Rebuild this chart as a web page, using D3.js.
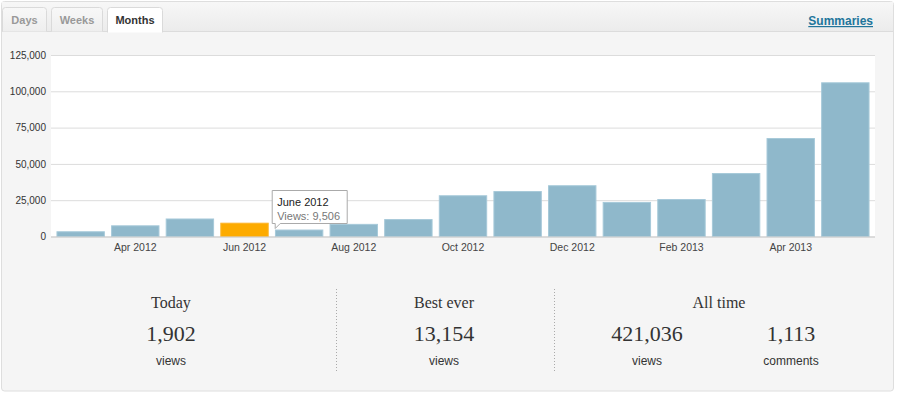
<!DOCTYPE html>
<html>
<head>
<meta charset="utf-8">
<script src="https://cdn.jsdelivr.net/npm/d3@7"></script>
<style>
  html, body { margin: 0; padding: 0; background: #fff; }
  svg { display: block; font-family: "Liberation Sans", Arial, sans-serif; }
</style>
</head>
<body>
<div id="chart"></div>
<script>
// monthly views
const months = ["Mar 2012", "Apr 2012", "May 2012", "Jun 2012", "Jul 2012", "Aug 2012", "Sep 2012",
    "Oct 2012", "Nov 2012", "Dec 2012", "Jan 2013", "Feb 2013", "Mar 2013", "Apr 2013", "May 2013"];
const views = [3600, 7700, 12400, 9506, 4800, 8700, 12000, 28400, 31300, 35300, 23800, 25800, 43700, 67800, 106200];
const xTickLabels = ["Apr 2012", "Jun 2012", "Aug 2012", "Oct 2012", "Dec 2012", "Feb 2013", "Apr 2013"];
const yTicks = [0, 25000, 50000, 75000, 100000, 125000];
const highlighted = "Jun 2012";
const tooltipLines = ["June 2012", "Views: 9,506"];

const tabs = ["Days", "Weeks", "Months"];
const activeTab = "Months";

// summary block
const summaryTitles = ["Today", "Best ever", "All time"];
const summaryNumbers = ["1,902", "13,154", "421,036", "1,113"];
const summaryUnits = ["views", "views", "views", "comments"];

const W = 899, H = 395;
const plot = {left: 51, right: 875, top: 55, bottom: 236.5};

let svg = d3.select("#chart").append("svg")
    .attr("width", W)
    .attr("height", H);

let defs = svg.append("defs");
let hg = defs.append("linearGradient").attr("id", "hdr").attr("x1", 0).attr("y1", 0).attr("x2", 0).attr("y2", 1);
hg.append("stop").attr("offset", "0%").attr("stop-color", "#f7f7f7");
hg.append("stop").attr("offset", "100%").attr("stop-color", "#ebebeb");
let tg = defs.append("linearGradient").attr("id", "tab").attr("x1", 0).attr("y1", 0).attr("x2", 0).attr("y2", 1);
tg.append("stop").attr("offset", "0%").attr("stop-color", "#f8f8f8");
tg.append("stop").attr("offset", "100%").attr("stop-color", "#eeeeee");

// outer frame
svg.append("rect")
    .attr("x", 1.5).attr("y", 1.5)
    .attr("width", 892).attr("height", 389.5)
    .attr("rx", 3)
    .attr("fill", "#f5f5f5")
    .attr("stroke", "#dedede");

// header band
svg.append("rect")
    .attr("x", 2).attr("y", 2)
    .attr("width", 891).attr("height", 30)
    .attr("fill", "url(#hdr)");
svg.append("line")
    .attr("x1", 2).attr("x2", 893)
    .attr("y1", 31.5).attr("y2", 31.5)
    .attr("stroke", "#dcdcdc");

// tabs
let tabX = d3.scaleOrdinal().domain(tabs).range([[2.5, 44], [51.5, 51], [107.5, 55]]);
let tabG = svg.selectAll("g.tab")
    .data(tabs)
    .join("g")
    .attr("class", "tab");
tabG.append("path")
    .attr("d", d => {
        let [x, w] = tabX(d);
        let y0 = 7.5, y1 = d === activeTab ? 32.5 : 31.5, r = 3;
        return `M${x},${y1}V${y0 + r}Q${x},${y0} ${x + r},${y0}H${x + w - r}Q${x + w},${y0} ${x + w},${y0 + r}V${y1}`;
    })
    .attr("fill", d => d === activeTab ? "#fff" : "url(#tab)")
    .attr("stroke", "#dadada");
tabG.append("text")
    .attr("x", d => tabX(d)[0] + tabX(d)[1] / 2)
    .attr("y", 24)
    .attr("text-anchor", "middle")
    .style("font-size", "11px")
    .style("font-weight", "bold")
    .attr("fill", d => d === activeTab ? "#333" : "#999")
    .text(d => d);

svg.append("text")
    .attr("x", 873).attr("y", 25)
    .attr("text-anchor", "end")
    .style("font-size", "12px")
    .style("font-weight", "bold")
    .style("text-decoration", "underline")
    .attr("fill", "#21759b")
    .text("Summaries");

// plot background
svg.append("rect")
    .attr("x", plot.left).attr("y", plot.top)
    .attr("width", plot.right - plot.left)
    .attr("height", plot.bottom - plot.top)
    .attr("fill", "#fff");

let x = d3.scaleBand()
    .domain(months)
    .range([plot.left, plot.right])
    .paddingInner(0.114)
    .paddingOuter(0.1);

let y = d3.scaleLinear()
    .domain([0, 125000])
    .range([plot.bottom, plot.top]);

// grid + y labels
let yAxis = svg.append("g")
    .attr("transform", `translate(${plot.left},0)`)
    .call(d3.axisLeft(y).tickValues(yTicks).tickFormat(d3.format(",")).tickSize(-(plot.right - plot.left)).tickPadding(5));
yAxis.select(".domain").remove();
yAxis.selectAll(".tick line").attr("stroke", "#dcdcdc");
yAxis.selectAll(".tick text")
    .attr("fill", "#333")
    .style("font-size", "10px")
    .style("font-family", "'Liberation Sans', Arial, sans-serif");

// bars
svg.selectAll("rect.bar")
    .data(months)
    .join("rect")
    .attr("class", "bar")
    .attr("x", d => x(d) + 0.5)
    .attr("y", (d, i) => y(views[i]) + 0.5)
    .attr("width", x.bandwidth() - 1)
    .attr("height", (d, i) => plot.bottom - y(views[i]) - 0.5)
    .attr("fill", d => d === highlighted ? "#fdab00" : "#8fb8cb")
    .attr("stroke", d => d === highlighted ? "#fdb52a" : "#a6c9d9")
    .attr("stroke-width", 1);

// x axis
let xAxis = svg.append("g")
    .attr("transform", `translate(0,${plot.bottom})`)
    .call(d3.axisBottom(x).tickValues(xTickLabels.map(l => months.find(m => m === l))).tickSize(0).tickPadding(7));
xAxis.select(".domain").attr("stroke", "#cccccc").attr("d", `M${plot.left},0.5H${plot.right}`);
xAxis.selectAll(".tick text")
    .attr("fill", "#444")
    .style("font-size", "10.5px")
    .style("font-family", "'Liberation Sans', Arial, sans-serif");

// tooltip on the highlighted bar
let hi = months.indexOf(highlighted);
let tipX = x(highlighted) + x.bandwidth() + 3.5, tipY = 190.5;
let tip = svg.append("g").attr("transform", `translate(${tipX},${tipY})`);
tip.append("path")
    .attr("d", "M0,0H75V33H8L3,38L3,33H0Z")
    .attr("fill", "#fff")
    .attr("stroke", "#aaa");
tip.append("text")
    .attr("x", 5).attr("y", 15)
    .style("font-size", "11px")
    .attr("fill", "#222")
    .text(tooltipLines[0]);
tip.append("text")
    .attr("x", 5).attr("y", 29)
    .style("font-size", "11px")
    .attr("fill", "#777")
    .text(tooltipLines[1]);

// summary block
let colX = [171, 444, 719];
svg.selectAll("text.stitle")
    .data(summaryTitles)
    .join("text")
    .attr("class", "stitle")
    .attr("x", (d, i) => colX[i])
    .attr("y", 308)
    .attr("text-anchor", "middle")
    .style("font-family", "'Liberation Serif', 'DejaVu Serif', serif")
    .style("font-size", "16px")
    .attr("fill", "#333")
    .text(d => d);

let numX = [171, 444, 647, 791];
svg.selectAll("text.snum")
    .data(summaryNumbers)
    .join("text")
    .attr("class", "snum")
    .attr("x", (d, i) => numX[i])
    .attr("y", 341)
    .attr("text-anchor", "middle")
    .style("font-family", "'Liberation Serif', 'DejaVu Serif', serif")
    .style("font-size", "22px")
    .attr("fill", "#333")
    .text(d => d);

svg.selectAll("text.sunit")
    .data(summaryUnits)
    .join("text")
    .attr("class", "sunit")
    .attr("x", (d, i) => numX[i])
    .attr("y", 365)
    .attr("text-anchor", "middle")
    .style("font-size", "12px")
    .attr("fill", "#333")
    .text(d => d);

svg.selectAll("line.divider")
    .data([336.5, 554.5])
    .join("line")
    .attr("class", "divider")
    .attr("x1", d => d).attr("x2", d => d)
    .attr("y1", 289).attr("y2", 373)
    .attr("stroke", "#aaa")
    .attr("stroke-dasharray", "1,2");
</script>
</body>
</html>
